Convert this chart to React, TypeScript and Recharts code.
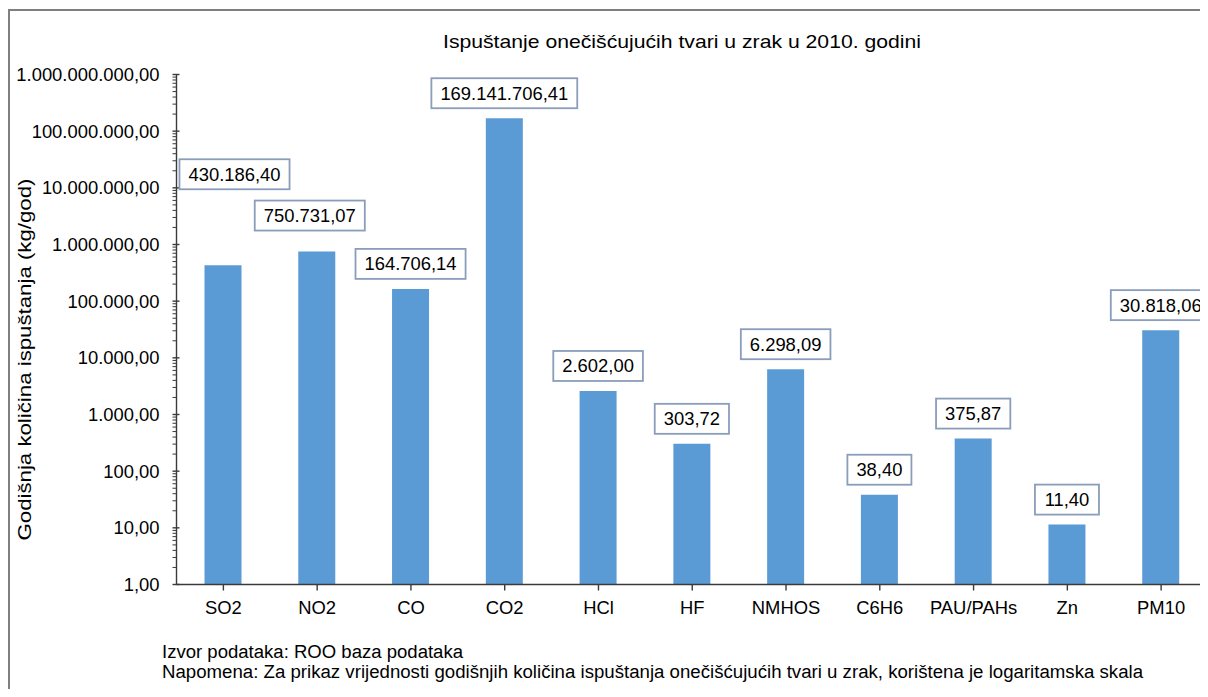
import React, { useLayoutEffect } from 'react';
import { BarChart, Bar, XAxis, YAxis, LabelList } from 'recharts';

const categories = ['SO2', 'NO2', 'CO', 'CO2', 'HCl', 'HF', 'NMHOS', 'C6H6', 'PAU/PAHs', 'Zn', 'PM10'];
const emissions = [430186.4, 750731.07, 164706.14, 169141706.41, 2602.0, 303.72, 6298.09, 38.4, 375.87, 11.4, 30818.06];
const majorTicks = [1, 10, 100, 1000, 10000, 100000, 1000000, 10000000, 100000000, 1000000000];
const minorMultipliers = [2, 3, 4, 5, 6, 7, 8, 9];

const titleText = 'Ispuštanje onečišćujućih tvari u zrak u 2010. godini';
const yAxisTitle = 'Godišnja količina ispuštanja (kg/god)';
const noteLines = [
  'Izvor podataka: ROO baza podataka',
  'Napomena: Za prikaz vrijednosti godišnjih količina ispuštanja onečišćujućih tvari u zrak, korištena je logaritamska skala',
];

// relative nudges for the two labels that were moved by hand in the original
const labelNudge: Record<string, [number, number]> = {
  SO2: [11.5, -66],
  NO2: [-7, -11],
};

const data = categories.map((name, i) => ({ name, value: emissions[i] }));

const yTicks: number[] = [];
majorTicks.forEach((t, i) => {
  yTicks.push(t);
  if (i < majorTicks.length - 1) minorMultipliers.forEach((m) => yTicks.push(t * m));
});

const FONT = '"Liberation Sans", Arial, sans-serif';
const FS = 18.4;
const AXIS = '#3a3a3a';
const BAR = '#5b9bd5';
const BOX = '#8a9dba';

function fmt(v: number): string {
  const [i, d] = v.toFixed(2).split('.');
  return i.replace(/\B(?=(\d{3})+(?!\d))/g, '.') + ',' + d;
}

function textWidth(s: string): number {
  let w = 0;
  for (const c of s) w += c === '.' || c === ',' ? 0.278 : 0.556;
  return w * FS;
}

const isMajor = (v: number) => majorTicks.includes(v);

const YTick = (props: any) => {
  const { x, y, payload } = props;
  const v = payload.value;
  if (isMajor(v)) {
    return (
      <g>
        <line x1={x - 4} x2={x + 3} y1={y} y2={y} stroke={AXIS} strokeWidth={1.4} />
        <text x={x - 17} y={y + 6.5} textAnchor="end" fontFamily={FONT} fontSize={FS} fill="#000">
          {fmt(v)}
        </text>
      </g>
    );
  }
  return <line x1={x - 4} x2={x} y1={y} y2={y} stroke={AXIS} strokeWidth={1} />;
};

const XTick = (props: any) => {
  const { x, y, payload } = props;
  return (
    <text x={x} y={y + 21} textAnchor="middle" fontFamily={FONT} fontSize={FS} fill="#000">
      {payload.value}
    </text>
  );
};

const DataLabel = (props: any) => {
  const { x, y, width, value, index } = props;
  const name = categories[index];
  const [dx, dy] = labelNudge[name] || [0, 0];
  const label = fmt(Number(value));
  const w = textWidth(label) + 18;
  const h = 30;
  const cx = Number(x) + Number(width) / 2 + dx;
  const cy = Number(y) - 25 + dy;
  return (
    <g>
      <rect x={cx - w / 2} y={cy - h / 2} width={w} height={h} fill="#fff" stroke={BOX} strokeWidth={1.8} />
      <text x={cx} y={cy + 6.5} textAnchor="middle" fontFamily={FONT} fontSize={FS} fill="#000">
        {label}
      </text>
    </g>
  );
};

export default function App() {
  useLayoutEffect(() => {
    document.documentElement.style.overflow = 'hidden';
    document.body.style.overflow = 'hidden';
  }, []);
  return (
    <div style={{ position: 'relative', width: 1192, height: 681, background: '#fff' }}>
      <div
        style={{
          position: 'absolute',
          left: 0,
          top: 1,
          width: 1200,
          height: 688,
          borderLeft: '2px solid #7f7f7f',
          borderTop: '2px solid #7f7f7f',
          boxSizing: 'border-box',
        }}
      />
      <div style={{ position: 'absolute', left: 0, top: 0 }}>
        <BarChart
          width={1200}
          height={689}
          data={data}
          margin={{ top: 66.5, right: 0, bottom: 82.5, left: 0 }}
          style={{ overflow: 'visible' }}
        >
          <XAxis
            dataKey="name"
            interval={0}
            axisLine={{ stroke: AXIS, strokeWidth: 1.4 }}
            tickLine={{ stroke: AXIS, strokeWidth: 1.4 }}
            tickSize={6}
            tickMargin={2}
            height={30}
            tick={<XTick />}
          />
          <YAxis
            scale="log"
            domain={[1, 1000000000]}
            allowDataOverflow
            ticks={yTicks}
            interval={0}
            width={168.5}
            axisLine={{ stroke: AXIS, strokeWidth: 1.4 }}
            tickLine={false}
            tickSize={0}
            tickMargin={0}
            tick={<YTick />}
          />
          <Bar dataKey="value" fill={BAR} barSize={37} isAnimationActive={false}>
            <LabelList dataKey="value" content={<DataLabel />} />
          </Bar>
        </BarChart>
      </div>
      <svg
        width={1192}
        height={681}
        style={{ position: 'absolute', left: 0, top: 0, pointerEvents: 'none', overflow: 'visible' }}
      >
        <text x={435} y={40} textLength={478} lengthAdjust="spacingAndGlyphs" fontFamily={FONT} fontSize={19} fill="#000">
          {titleText}
        </text>
        <text
          transform="translate(23.4, 351.5) rotate(-90)"
          textAnchor="middle"
          textLength={362}
          lengthAdjust="spacingAndGlyphs"
          fontFamily={FONT}
          fontSize={17.5}
          fill="#000"
        >
          {yAxisTitle}
        </text>
        <text x={154} y={650} textLength={301} lengthAdjust="spacingAndGlyphs" fontFamily={FONT} fontSize={18} fill="#000">
          {noteLines[0]}
        </text>
        <text x={154} y={669.5} textLength={981} lengthAdjust="spacingAndGlyphs" fontFamily={FONT} fontSize={18} fill="#000">
          {noteLines[1]}
        </text>
      </svg>
    </div>
  );
}
